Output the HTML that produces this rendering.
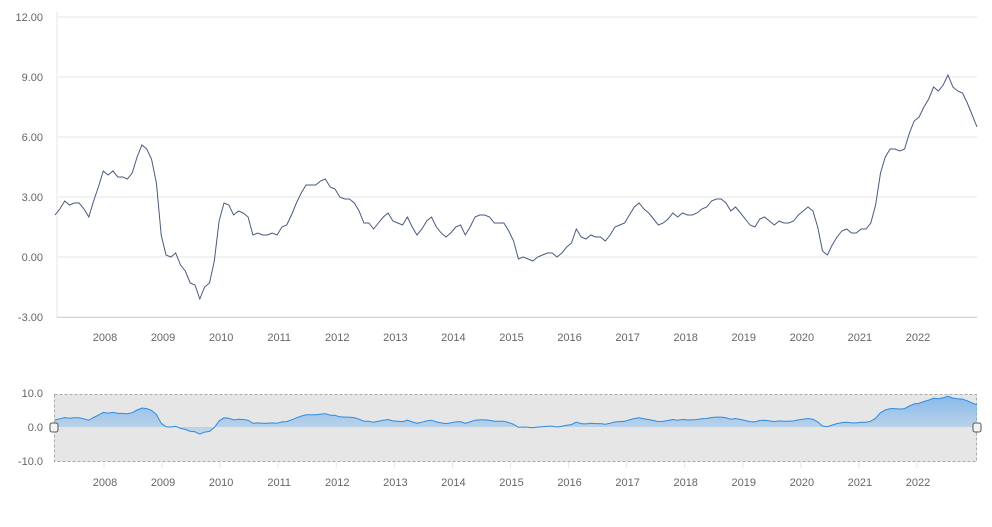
<!DOCTYPE html>
<html><head><meta charset="utf-8"><style>
body{margin:0;background:#fff;font-family:"Liberation Sans",sans-serif}
svg text{font-family:"Liberation Sans",sans-serif}
</style></head><body>
<svg id="c" width="992" height="522"></svg>
<script>
const startYear=2007;
const values=[
2.1,2.4,2.8,2.6,2.7,2.7,2.4,2.0,2.8,3.5,4.3,4.1,
4.3,4.0,4.0,3.9,4.2,5.0,5.6,5.4,4.9,3.7,1.1,0.1,
0.0,0.2,-0.4,-0.7,-1.3,-1.4,-2.1,-1.5,-1.3,-0.2,1.8,2.7,
2.6,2.1,2.3,2.2,2.0,1.1,1.2,1.1,1.1,1.2,1.1,1.5,
1.6,2.1,2.7,3.2,3.6,3.6,3.6,3.8,3.9,3.5,3.4,3.0,
2.9,2.9,2.7,2.3,1.7,1.7,1.4,1.7,2.0,2.2,1.8,1.7,
1.6,2.0,1.5,1.1,1.4,1.8,2.0,1.5,1.2,1.0,1.2,1.5,
1.6,1.1,1.5,2.0,2.1,2.1,2.0,1.7,1.7,1.7,1.3,0.8,
-0.1,0.0,-0.1,-0.2,0.0,0.1,0.2,0.2,0.0,0.2,0.5,0.7,
1.4,1.0,0.9,1.1,1.0,1.0,0.8,1.1,1.5,1.6,1.7,2.1,
2.5,2.7,2.4,2.2,1.9,1.6,1.7,1.9,2.2,2.0,2.2,2.1,
2.1,2.2,2.4,2.5,2.8,2.9,2.9,2.7,2.3,2.5,2.2,1.9,
1.6,1.5,1.9,2.0,1.8,1.6,1.8,1.7,1.7,1.8,2.1,2.3,
2.5,2.3,1.5,0.3,0.1,0.6,1.0,1.3,1.4,1.2,1.2,1.4,
1.4,1.7,2.6,4.2,5.0,5.4,5.4,5.3,5.4,6.2,6.8,7.0,
7.5,7.9,8.5,8.3,8.6,9.1,8.5,8.3,8.2,7.7,7.1,6.5];
const yTicks=[12,9,6,3,0,-3];
const navTicks=[10,0,-10];
const yearLabels=[2008,2009,2010,2011,2012,2013,2014,2015,2016,2017,2018,2019,2020,2021,2022];

const svg=document.getElementById('c');
const NS='http://www.w3.org/2000/svg';
function mk(t,a,p){const e=document.createElementNS(NS,t);for(const k in a)e.setAttribute(k,a[k]);(p||svg).appendChild(e);return e;}
const x0=55,x1=977,n=values.length;
const xs=i=>x0+(x1-x0)*i/(n-1);
const ys=v=>257-v*20;
const ny=v=>427-v*3.4;
const yearX=y=>105+(y-2008)*58.07;

// grid
yTicks.forEach(t=>{
 const g=mk('line',{x1:57,x2:977,y1:ys(t),y2:ys(t),stroke:'#e6e6e6','stroke-width':1});
 
 
 const l=mk('text',{x:43,y:ys(t)+4,'text-anchor':'end','font-size':11,fill:'#666'});
 l.textContent=t.toFixed(2);
 
 
});
mk('line',{x1:57,x2:57,y1:12,y2:317,stroke:'#e6e6e6'});
mk('line',{x1:57,x2:977,y1:317.5,y2:317.5,stroke:'#ccd6eb'});
yearLabels.forEach(y=>{
 const t=mk('text',{x:yearX(y),y:341,'text-anchor':'middle','font-size':11,fill:'#666'});
 t.textContent=y;
 
 
 const t2=mk('text',{x:yearX(y),y:486,'text-anchor':'middle','font-size':11,fill:'#666'});
 t2.textContent=y;
 
 
 mk('line',{x1:yearX(y)-1,x2:yearX(y)-1,y1:462,y2:468,stroke:'#e6e6e6'});
});
// main line
let d=values.map((v,i)=>(i?'L':'M')+xs(i).toFixed(1)+' '+ys(v).toFixed(1)).join(' ');
const line=mk('path',{d:d,fill:'none',stroke:'#4a5a7e','stroke-width':1});



// navigator
const nb=mk('rect',{x:54.5,y:394.5,width:922,height:67,fill:'#e6e6e6',stroke:'#aaa','stroke-dasharray':'3,2'});


navTicks.forEach(t=>{
 const l=mk('text',{x:43,y:ny(t)+4,'text-anchor':'end','font-size':11,fill:'#666'});
 l.textContent=t.toFixed(1);
 
 
});
const defs=mk('defs',{});
const gr=mk('linearGradient',{id:'ga',x1:0,y1:0,x2:0,y2:1},defs);
mk('stop',{offset:0,'stop-color':'#7cb5ec','stop-opacity':0.9},gr);
mk('stop',{offset:1,'stop-color':'#7cb5ec','stop-opacity':0.3},gr);
let nd=values.map((v,i)=>(i?'L':'M')+xs(i).toFixed(1)+' '+ny(v).toFixed(1)).join(' ');
const area=mk('path',{d:nd+` L${x1} ${ny(0)} L${x0} ${ny(0)} Z`,fill:'url(#ga)'});


const nl=mk('path',{d:nd,fill:'none',stroke:'#2f8be0','stroke-width':1});


[54,977].forEach((hx,k)=>{
 const h=mk('rect',{x:hx-4,y:423,width:8,height:9,rx:2,fill:'#f2f2f2',stroke:'#555','stroke-width':1});
 
 
});
</script>
</body></html>
